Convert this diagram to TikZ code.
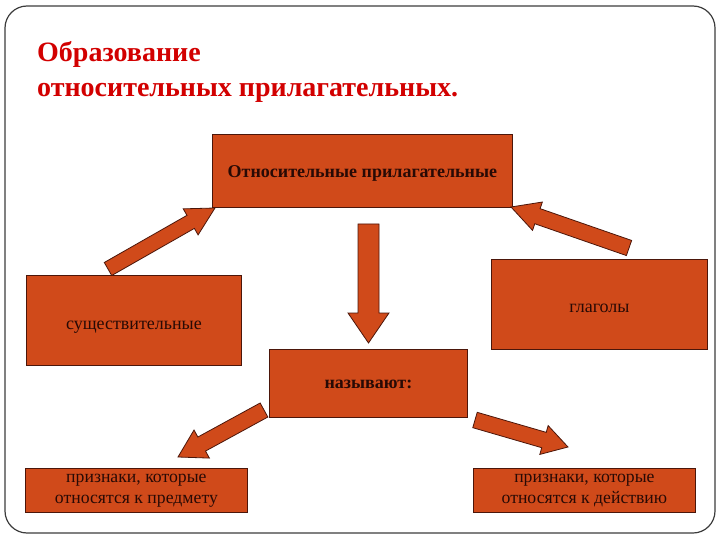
\documentclass[tikz,border=0pt]{standalone}
\usepackage{fontspec}
\setmainfont{Liberation Serif}
\definecolor{boxfill}{RGB}{208,74,26}
\definecolor{boxline}{RGB}{75,22,10}
\definecolor{boxtext}{RGB}{40,10,5}
\definecolor{titlered}{RGB}{210,0,0}
\definecolor{framegray}{RGB}{60,60,60}
\newdimen\bax \newdimen\bay \newdimen\bbx \newdimen\bby
\newcommand\blockarr[5]{%
  \pgfextractx{\bax}{\pgfpointanchor{#1}{center}}%
  \pgfextracty{\bay}{\pgfpointanchor{#1}{center}}%
  \pgfextractx{\bbx}{\pgfpointanchor{#2}{center}}%
  \pgfextracty{\bby}{\pgfpointanchor{#2}{center}}%
  \pgfmathsetmacro\bang{atan2(\bby-\bay,\bbx-\bax)}%
  \pgfmathsetmacro\blen{veclen(\bbx-\bax,\bby-\bay)}%
  \pgfmathsetmacro\bneck{\blen-#5}%
  \pgfmathsetmacro\bs{#3/2}%
  \pgfmathsetmacro\bh{#4/2}%
  \draw[barrow,shift={(\the\bax,\the\bay)},rotate=\bang]
    (0pt,-\bs pt) -- (\bneck pt,-\bs pt) -- (\bneck pt,-\bh pt) -- (\blen pt,0pt)
    -- (\bneck pt,\bh pt) -- (\bneck pt,\bs pt) -- (0pt,\bs pt) -- cycle;%
}
\tikzset{
  box/.style={draw=boxline, fill=boxfill, line width=0.8pt, inner sep=0pt,
    align=center, text=boxtext, anchor=north west},
  barrow/.style={draw=boxline, fill=boxfill, line width=0.8pt, line join=miter},
  titletext/.style={text=titlered, font=\fontsize{28}{32}\selectfont\bfseries, anchor=base west, inner sep=0pt},
}
\begin{document}
\begin{tikzpicture}[x=1pt,y=-1pt]
\useasboundingbox (0,0) rectangle (720,540);
\draw[framegray, line width=1.2pt, rounded corners=22pt] (5,6) rectangle (715,533);

\node[titletext] (t1) at (37,62) {Образование};
\node[titletext] (t2) at (37,97) {относительных прилагательных.};

\node[box, minimum width=300pt, minimum height=73pt, text height=18pt, text depth=4pt, font=\fontsize{18}{20}\selectfont\bfseries] (rel) at (212,134) {Относительные прилагательные};
\node[box, minimum width=215pt, minimum height=90pt, text height=22pt, text depth=4pt, font=\fontsize{18}{20}\selectfont] (noun) at (26,275) {существительные};
\node[box, minimum width=216pt, minimum height=90pt, text height=16pt, text depth=0pt, font=\fontsize{18}{20}\selectfont] (verb) at (491,259) {глаголы};
\node[box, minimum width=198pt, minimum height=68pt, text height=14.5pt, text depth=4pt, font=\fontsize{18}{20}\selectfont\bfseries] (name) at (269,349) {называют:};
\node[box, minimum width=222pt, minimum height=44pt, font=\fontsize{17.7}{21}\selectfont] (obj) at (25,468) {признаки, которые\\относятся к предмету};
\node[box, minimum width=222pt, minimum height=44pt, font=\fontsize{17.7}{21}\selectfont] (act) at (473,468) {признаки, которые\\относятся к действию};

\coordinate (a1s) at (108,269); \coordinate (a1e) at (215,208);
\coordinate (a2s) at (368.5,224); \coordinate (a2e) at (368.5,343);
\coordinate (a3s) at (629,248); \coordinate (a3e) at (511,207);
\coordinate (a4s) at (264,410); \coordinate (a4e) at (178,457);
\coordinate (a5s) at (475,420); \coordinate (a5e) at (568,447);

\blockarr{a1s}{a1e}{15}{30}{28}
\blockarr{a2s}{a2e}{21}{41}{30}
\blockarr{a3s}{a3e}{16}{30}{28}
\blockarr{a4s}{a4e}{16}{32}{27}
\blockarr{a5s}{a5e}{16}{30}{25}
\end{tikzpicture}
\end{document}
